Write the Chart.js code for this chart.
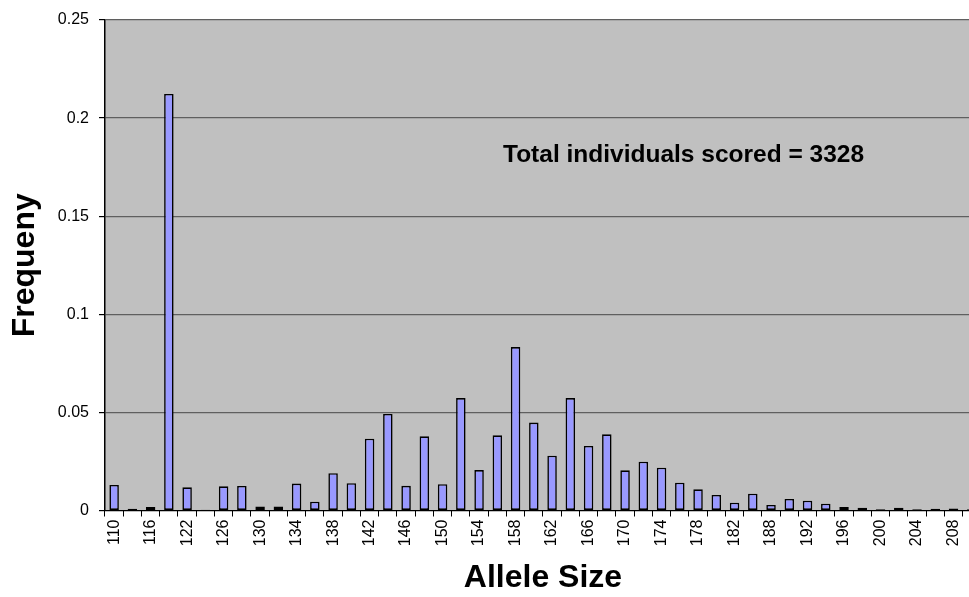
<!DOCTYPE html>
<html>
<head>
<meta charset="utf-8">
<script src="https://cdn.jsdelivr.net/npm/chart.js@4.4.1/dist/chart.umd.min.js"></script>
<style>
  html, body { margin: 0; padding: 0; background: #ffffff; overflow: hidden; }
  #wrap { position: relative; width: 994px; height: 597px; }
</style>
</head>
<body>
<div id="wrap"><canvas id="c" width="994" height="597"></canvas></div>
<script>
// ---- data ----
const categories = ['110','114','116','120','122','124','126','128','130','132','134','136','138','140','142','144','146','148','150','152','154','156','158','160','162','164','166','168','170','172','174','176','178','180','182','184','188','190','192','194','196','198','200','202','204','206','208','210'];
const frequency = [0.013,0.0009,0.0018,0.2123,0.0118,0.0004,0.0123,0.0125,0.002,0.002,0.0137,0.0045,0.019,0.0139,0.0366,0.0492,0.0126,0.0378,0.0134,0.0573,0.0206,0.0383,0.0833,0.0448,0.0279,0.0573,0.0329,0.0388,0.0205,0.0249,0.0218,0.0142,0.0108,0.0079,0.004,0.0086,0.0028,0.0059,0.005,0.0035,0.0018,0.0014,0.0006,0.0014,0.0006,0.0009,0.001,0.0006];
const yTickLabels = ['0','0.05','0.1','0.15','0.2','0.25'];
const annotationText = 'Total individuals scored = 3328';
const xTitle = 'Allele Size';
const yTitle = 'Frequeny';

const FONT = "'Liberation Sans', Arial, sans-serif";

const plotBg = {
  id: 'plotBg',
  beforeDraw(chart) {
    const {ctx, chartArea: a} = chart;
    ctx.save();
    ctx.fillStyle = '#C0C0C0';
    ctx.fillRect(a.left, a.top, a.right - a.left, a.bottom - a.top);
    ctx.restore();
  }
};

const note = {
  id: 'note',
  afterDraw(chart) {
    const ctx = chart.ctx;
    ctx.save();
    ctx.font = "bold 24.5px " + FONT;
    ctx.fillStyle = '#000';
    ctx.textAlign = 'left';
    ctx.textBaseline = 'alphabetic';
    ctx.fillText(annotationText, 503, 162);
    ctx.restore();
  }
};

new Chart(document.getElementById('c'), {
  type: 'bar',
  data: {
    labels: categories,
    datasets: [{
      data: frequency,
      backgroundColor: '#9999FF',
      borderColor: '#000000',
      borderWidth: 1.6,
      borderSkipped: false,
      barPercentage: 0.52,
      categoryPercentage: 1.0
    }]
  },
  options: {
    responsive: false,
    animation: false,
    devicePixelRatio: 1,
    layout: { padding: { top: 20, right: 3, bottom: 0, left: 0 } },
    plugins: { legend: { display: false }, tooltip: { enabled: false } },
    scales: {
      x: {
        offset: true,
        afterFit(s) { s.height = 86.5; },
        grid: { display: true, drawOnChartArea: false, drawTicks: true, tickLength: 6, tickColor: '#000', offset: true },
        border: { display: true, color: '#000', width: 1 },
        ticks: {
          autoSkip: false, minRotation: 90, maxRotation: 90, padding: 3,
          color: '#000', font: { family: FONT, size: 16 },
          callback: (v, i) => (i % 2 === 0 ? categories[i] : '')
        },
        title: { display: true, text: xTitle, color: '#000', font: { family: FONT, size: 32, weight: 'bold' }, padding: { top: 0, bottom: 0 } }
      },
      y: {
        min: 0, max: 0.25,
        afterFit(s) { s.width = 105; },
        grid: {
          color: (c) => (c.tick && c.tick.value === 0 ? '#000' : '#5f5f5f'),
          lineWidth: 1.2, tickLength: 6, tickColor: '#000', drawTicks: true
        },
        border: { display: true, color: '#000', width: 1.5 },
        ticks: {
          stepSize: 0.05, padding: 10, color: '#000', font: { family: FONT, size: 16 },
          callback: (v, i) => yTickLabels[i]
        },
        title: { display: true, text: yTitle, color: '#000', font: { family: FONT, size: 32, weight: 'bold' }, padding: { top: 6, bottom: 0 } }
      }
    }
  },
  plugins: [plotBg, note]
});
</script>
</body>
</html>
